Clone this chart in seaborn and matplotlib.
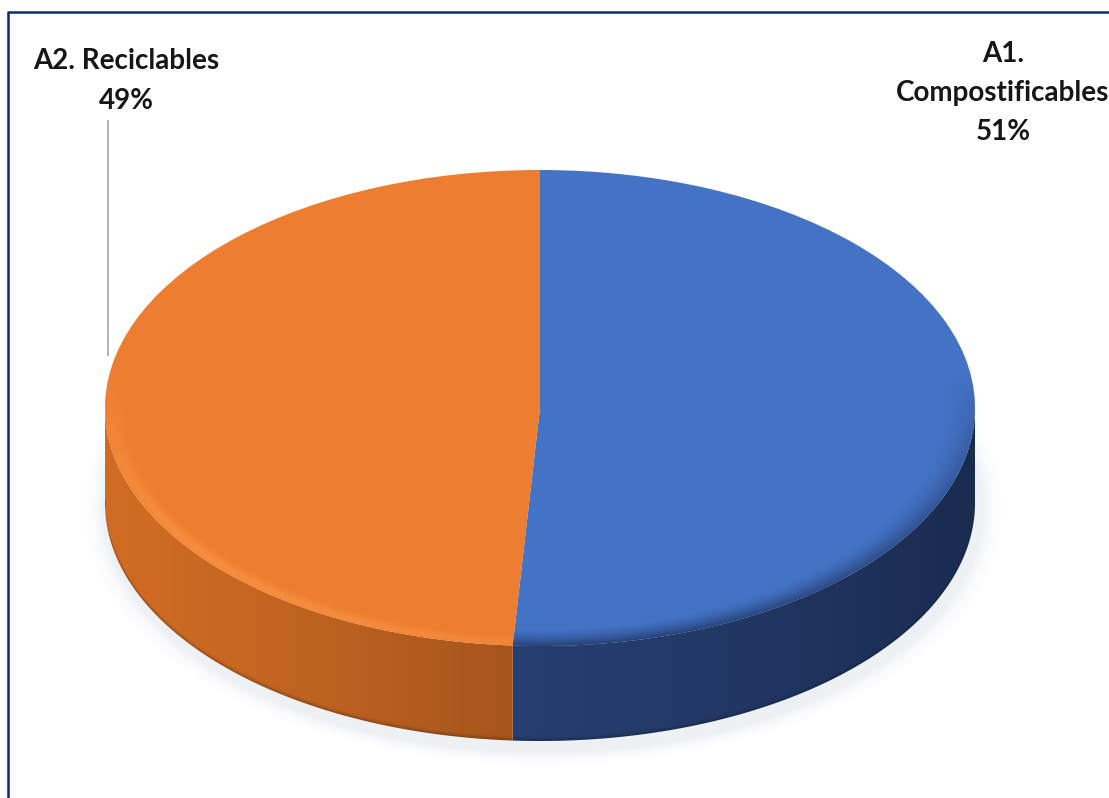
import numpy as np
import matplotlib
matplotlib.use("Agg")
import matplotlib.pyplot as plt
import seaborn as sns
from matplotlib.patches import Wedge, Polygon
from matplotlib.transforms import Affine2D

# ---- data -------------------------------------------------------------
categories = ["A1.\nCompostificables", "A2. Reciclables"]
shares = [51, 49]

# ---- style ------------------------------------------------------------
top_colors = ["#4472C4", "#ED7D31"]
side_left = [(38, 62, 112), (208, 108, 36)]    # side colour at the left end of each side face
side_right = [(26, 43, 80), (166, 85, 28)]     # side colour at the right end
rim_tone = [(30, 52, 98), (255, 156, 72)]      # tone of the bevel at the rim of the top face
rim_strength = [0.85, 0.85]

sns.set_theme(style="white")
plt.rcParams["font.family"] = ["Lato", "DejaVu Sans"]

W, H = 1109, 798
fig = plt.figure(figsize=(W / 100, H / 100), dpi=100)
ax = fig.add_axes([0, 0, 1, 1])
ax.set_xlim(0, W)
ax.set_ylim(H, 0)
ax.axis("off")

# ellipse geometry of the tilted disc
CX, CY, RX, RY, DEPTH = 540, 408, 435, 238, 95
disc = Affine2D().scale(RX, -RY).translate(CX, CY) + ax.transData


def ellipse_pts(t_deg, dy=0.0):
    t = np.radians(t_deg)
    return np.column_stack([CX + RX * np.cos(t), CY - RY * np.sin(t) + dy])


gx, gy = np.meshgrid(np.arange(0, W), np.arange(0, H))

# ---- soft shadow below the disc ----------------------------------------
d = np.sqrt(((gx - CX - 3) / (RX + 4)) ** 2 + ((gy - CY - DEPTH - 5) / (RY + 6)) ** 2)
alpha = np.clip(1 - (d - 1) / 0.06, 0, 1) ** 2 * 0.22
shadow = np.zeros((H, W, 4))
shadow[..., 0], shadow[..., 1], shadow[..., 2] = 0.70, 0.76, 0.82
shadow[..., 3] = alpha
ax.imshow(shadow, extent=(0, W, H, 0), zorder=1, interpolation="bilinear")

# ---- wedge angles (clockwise from 12 o'clock) --------------------------
total = float(sum(shares))
spans = []
start = 90.0
for s in shares:
    end = start - s / total * 360.0
    spans.append((end, start))
    start = end

# ---- side faces -------------------------------------------------------
ytop = CY + RY * np.sqrt(np.clip(1 - ((gx - CX) / RX) ** 2, 0, 1))
for i, (t1, t2) in enumerate(spans):
    # visible part of the rim: lower half of the ellipse
    vis = None
    for k in (-1, 0, 1):
        a, b = max(t1 + 360 * k, -180), min(t2 + 360 * k, 0)
        if b > a:
            vis = (a, b)
    if vis is None:
        continue
    ts = np.linspace(vis[0], vis[1], 300)
    top = ellipse_pts(ts)
    bot = ellipse_pts(ts, DEPTH)
    poly = Polygon(np.vstack([top, bot[::-1]]), closed=True,
                   facecolor="none", edgecolor="none")
    ax.add_patch(poly)

    x0, x1 = top[:, 0].min(), top[:, 0].max()
    u = np.clip((gx - x0) / max(x1 - x0, 1), 0, 1) ** 1.3
    cl = np.array(side_left[i]) / 255
    cr = np.array(side_right[i]) / 255
    base = cl[None, None, :] * (1 - u[..., None]) + cr[None, None, :] * u[..., None]
    # darker lip along the lower edge
    ybot = ytop + DEPTH
    lip = np.exp(-((ybot - gy) / 3.0) ** 2)
    base = base * (1 - 0.25 * lip[..., None])
    im = ax.imshow(np.clip(base, 0, 1), extent=(0, W, H, 0), zorder=2,
                   interpolation="bilinear")
    im.set_clip_path(poly)

# ---- top faces --------------------------------------------------------
for i, (t1, t2) in enumerate(spans):
    w = Wedge((0, 0), 1, t1, t2, facecolor=top_colors[i], edgecolor="none",
              transform=disc, zorder=3)
    ax.add_patch(w)

# bevel along the front rim of the top face
r = np.sqrt(((gx - CX) / RX) ** 2 + ((gy - CY) / RY) ** 2)
front = np.clip((gy - CY + 30) / (RY + 30), 0, 1) ** 0.7
for i, (t1, t2) in enumerate(spans):
    clip = Wedge((0, 0), 1, t1, t2, facecolor="none", edgecolor="none",
                 transform=disc)
    ax.add_patch(clip)
    if i == 1:
        band = np.exp(-((r - 0.985) / 0.022) ** 2)
        fade = 1 - 0.75 * np.clip((gx - (CX - RX)) / (RX * 1.05), 0, 1)
    else:
        band = np.clip((r - 0.925) / 0.075, 0, 1) ** 1.5
        fade = np.ones_like(r)
    rgba = np.zeros((H, W, 4))
    rgba[..., :3] = np.array(rim_tone[i]) / 255
    rgba[..., 3] = np.clip(band * front * fade * rim_strength[i], 0, 1)
    im = ax.imshow(rgba, extent=(0, W, H, 0), zorder=4, interpolation="bilinear")
    im.set_clip_path(clip)

# ---- labels -----------------------------------------------------------
label_pos = [(1003, 93), (126, 81)]
for i, cat in enumerate(categories):
    x, y = label_pos[i]
    ax.text(x, y, f"{cat}\n{shares[i]}%", ha="center", va="center",
            fontsize=20, fontweight="bold", color="#161616",
            linespacing=1.62, zorder=6)

# leader line for the left label
ax.plot([108, 108], [120, 356], color="#A6A6A6", lw=1.2, zorder=5,
        solid_capstyle="butt")

# frame lines along the top and left edges
ax.plot([8, 8], [12, H + 5], color="#0F2B6E", lw=1.8, zorder=7,
        solid_capstyle="butt")
ax.plot([7.4, W + 5], [12, 12], color="#0F2B6E", lw=1.8, zorder=7,
        solid_capstyle="butt")

fig.savefig("out.png", dpi=100, facecolor="white")
